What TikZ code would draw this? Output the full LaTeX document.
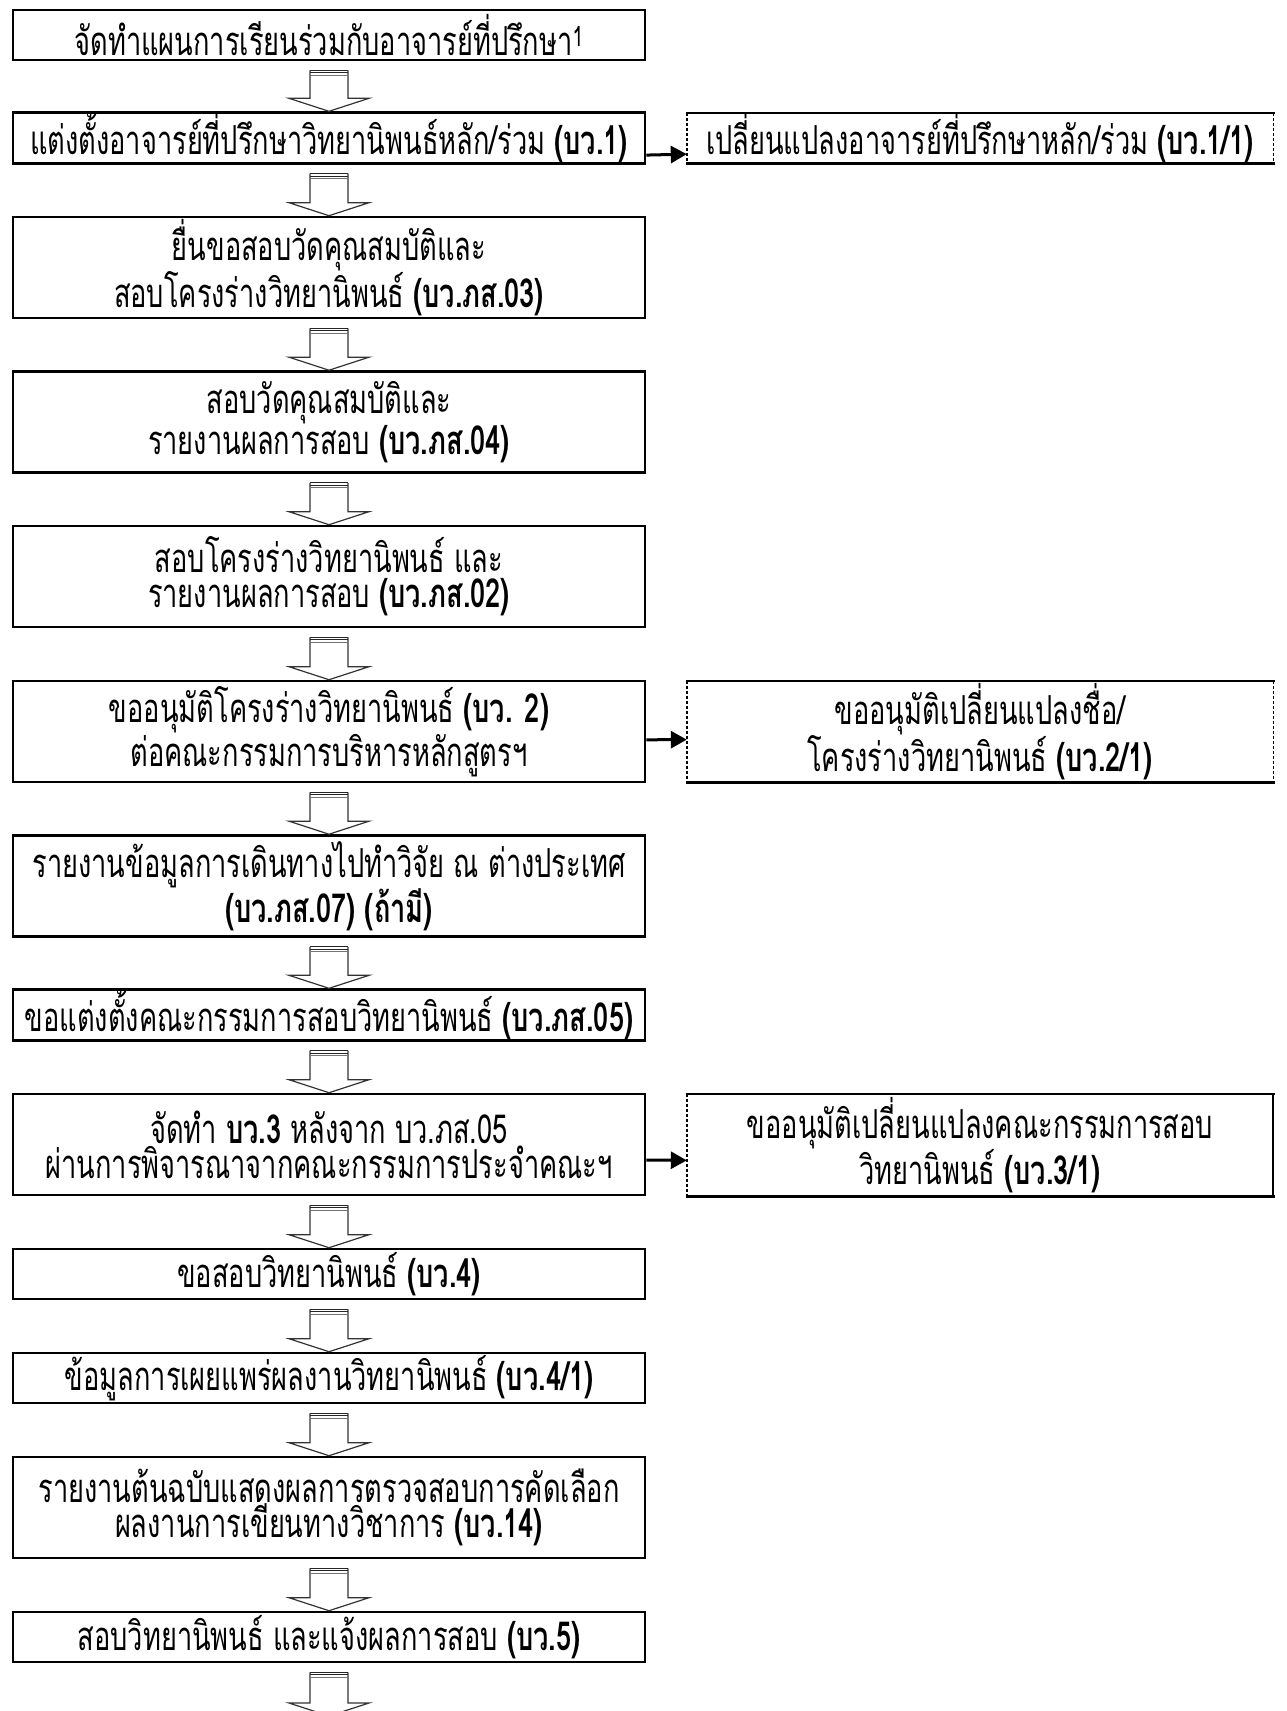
\documentclass[tikz,border=0pt]{standalone}
\usepackage{graphicx}
\usepackage{fontspec}
\setmainfont[Script=Thai]{Loma}
\usetikzlibrary{calc,arrows.meta}
\newcommand\sq[1]{\scalebox{0.68}[1]{#1}}
\newcommand\blk[2]{%
  \draw[bshaft] ($(#1)+(-19,9)$) -- ($(#2)+(-19,-13)$) -- ($(#2)+(-40,-13)$) -- (#2)
     -- ($(#2)+(40,-13)$) -- ($(#2)+(19,-13)$) -- ($(#1)+(19,9)$);
  \draw[bstripe] ($(#1)+(-19,9)$) -- ($(#1)+(19,9)$);
  \draw[bstripe] ($(#1)+(-19,11.5)$) -- ($(#1)+(19,11.5)$);
  \draw[bstripe,draw=black!55] ($(#1)+(-19,14)$) -- ($(#1)+(19,14)$);
}
\begin{document}
\begin{tikzpicture}[x=1pt,y=-1pt,
  txt/.style={inner sep=0pt, align=center, font=\fontsize{40}{35}\selectfont},
  mainbox/.style={txt, draw, line width=2.6pt, minimum width=632pt},
  one/.style={minimum height=50pt},
  two/.style={minimum height=101pt},
  rbox/.style={txt, minimum width=586pt},
  rsolid/.style={line width=2.6pt, line cap=rect},
  rdash/.style={line width=1.4pt, dash pattern=on 3pt off 2pt},
  bshaft/.style={draw=black!80, line width=1.2pt, fill=white},
  bstripe/.style={draw=black!85, line width=1.3pt},
  harrow/.style={line width=3pt, -{Triangle[length=16pt,width=17pt]}}]
\fill[white] (0,0) rectangle (1286,1711);
\useasboundingbox (0,0) rectangle (1286,1711);

\node[mainbox,one] (b1) at (329,35) {\sq{จัดทำแผนการเรียนร่วมกับอาจารย์ที่ปรึกษา\textsuperscript{1}}};
\node[mainbox,one] (b2) at (329,138) {\sq{แต่งตั้งอาจารย์ที่ปรึกษาวิทยานิพนธ์หลัก/ร่วม \textbf{(บว.1)}}};
\node[mainbox,two] (b3) at (329,267.5) {\sq{ยื่นขอสอบวัดคุณสมบัติและ}\\\sq{สอบโครงร่างวิทยานิพนธ์ \textbf{(บว.ภส.03)}}};
\node[mainbox,two] (b4) at (329,422) {\sq{สอบวัดคุณสมบัติและ}\\\sq{รายงานผลการสอบ \textbf{(บว.ภส.04)}}};
\node[mainbox,two] (b5) at (329,576.5) {\sq{สอบโครงร่างวิทยานิพนธ์ และ}\\\sq{รายงานผลการสอบ \textbf{(บว.ภส.02)}}};
\node[mainbox,two] (b6) at (329,731.5) {\sq{ขออนุมัติโครงร่างวิทยานิพนธ์ \textbf{(บว. 2)}}\\\sq{ต่อคณะกรรมการบริหารหลักสูตรฯ}};
\node[mainbox,two] (b7) at (329,886) {\sq{รายงานข้อมูลการเดินทางไปทำวิจัย ณ ต่างประเทศ}\\\sq{\textbf{(บว.ภส.07) (ถ้ามี)}}};
\node[mainbox,one] (b8) at (329,1015) {\sq{ขอแต่งตั้งคณะกรรมการสอบวิทยานิพนธ์ \textbf{(บว.ภส.05)}}};
\node[mainbox,two] (b9) at (329,1144.5) {\sq{จัดทำ \textbf{บว.3} หลังจาก บว.ภส.05}\\\sq{ผ่านการพิจารณาจากคณะกรรมการประจำคณะฯ}};
\node[mainbox,one] (b10) at (329,1274) {\sq{ขอสอบวิทยานิพนธ์ \textbf{(บว.4)}}};
\node[mainbox,one] (b11) at (329,1378) {\sq{ข้อมูลการเผยแพร่ผลงานวิทยานิพนธ์ \textbf{(บว.4/1)}}};
\node[mainbox,two] (b12) at (329,1507.5) {\sq{รายงานต้นฉบับแสดงผลการตรวจสอบการคัดเลือก}\\\sq{ผลงานการเขียนทางวิชาการ \textbf{(บว.14)}}};
\node[mainbox,one] (b13) at (329,1637) {\sq{สอบวิทยานิพนธ์ และแจ้งผลการสอบ \textbf{(บว.5)}}};
\coordinate (bend) at (329,1716);

\node[rbox,one] (rA) at (980,138) {\sq{เปลี่ยนแปลงอาจารย์ที่ปรึกษาหลัก/ร่วม \textbf{(บว.1/1)}}};
\node[rbox,two] (rB) at (980,731.5) {\sq{ขออนุมัติเปลี่ยนแปลงชื่อ/}\\\sq{โครงร่างวิทยานิพนธ์ \textbf{(บว.2/1)}}};
\node[rbox,two,minimum height=102pt] (rC) at (980,1145) {\sq{ขออนุมัติเปลี่ยนแปลงคณะกรรมการสอบ}\\\sq{วิทยานิพนธ์ \textbf{(บว.3/1)}}};

\foreach \r in {rA,rB,rC}{
  \draw[rsolid] (\r.north west) -- (\r.north east);
  \draw[rsolid] (\r.south west) -- (\r.south east);
  \draw[rdash] (\r.north west) -- (\r.south west);
}
\draw[rdash] (rA.north east) -- (rA.south east);
\draw[rdash] (rB.north east) -- (rB.south east);
\draw[line width=2.2pt] (rC.north east) -- (rC.south east);

\blk{b1.south}{b2.north}
\blk{b2.south}{b3.north}
\blk{b3.south}{b4.north}
\blk{b4.south}{b5.north}
\blk{b5.south}{b6.north}
\blk{b6.south}{b7.north}
\blk{b7.south}{b8.north}
\blk{b8.south}{b9.north}
\blk{b9.south}{b10.north}
\blk{b10.south}{b11.north}
\blk{b11.south}{b12.north}
\blk{b12.south}{b13.north}
\blk{b13.south}{bend}

\draw[harrow] ($(b2.north east)!0.82!(b2.south east)$) -- ($(rA.north west)!0.82!(rA.south west)$);
\draw[harrow] ($(b6.north east)!0.58!(b6.south east)$) -- ($(rB.north west)!0.58!(rB.south west)$);
\draw[harrow] ($(b9.north east)!0.65!(b9.south east)$) -- ($(rC.north west)!0.65!(rC.south west)$);
\end{tikzpicture}
\end{document}
